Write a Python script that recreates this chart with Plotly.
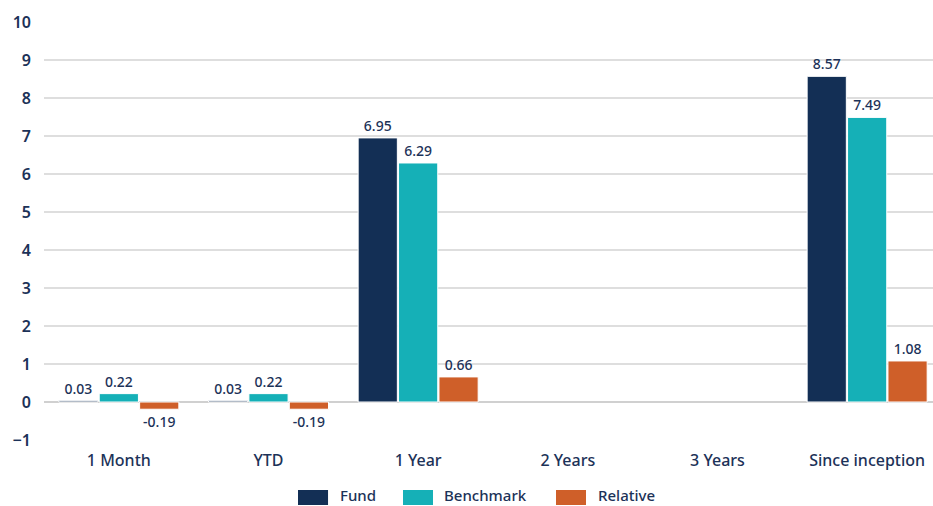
import plotly.graph_objects as go

categories = ["1 Month", "YTD", "1 Year", "2 Years", "3 Years", "Since inception"]
fund = [0.03, 0.03, 6.95, None, None, 8.57]
benchmark = [0.22, 0.22, 6.29, None, None, 7.49]
relative = [-0.19, -0.19, 0.66, None, None, 1.08]
y_ticks = [-1, 0, 1, 2, 3, 4, 5, 6, 7, 8, 9, 10]

series_names = ["Fund", "Benchmark", "Relative"]
series_values = [fund, benchmark, relative]
series_colors = ["#132f55", "#15b0b7", "#cf5f29"]

text_color = "#1c3258"
font_family = "Noto Sans, Open Sans, sans-serif"

fig = go.Figure()
for name, vals, color in zip(series_names, series_values, series_colors):
    fig.add_trace(go.Bar(
        name=name,
        x=categories,
        y=vals,
        marker=dict(color=color, line=dict(color="white", width=1)),
        text=[("" if v is None else f"{v:.2f}") for v in vals],
        textposition="outside",
        textfont=dict(size=14, color=text_color, family=font_family, weight=500),
        cliponaxis=False,
        showlegend=False,
    ))

# custom legend (larger rectangular swatches as in the reference)
legend_swatch_x = [(0.2857, 0.3195), (0.4038, 0.4376), (0.5759, 0.6097)]
legend_text_x = [0.3318, 0.4488, 0.6220]
shapes = []
annotations = []
for name, color, (x0, x1), tx in zip(series_names, series_colors, legend_swatch_x, legend_text_x):
    shapes.append(dict(type="rect", xref="paper", yref="paper",
                       x0=x0, x1=x1, y0=-0.1555, y1=-0.1196,
                       fillcolor=color, line=dict(width=0)))
    annotations.append(dict(xref="paper", yref="paper", x=tx, y=-0.131,
                            xanchor="left", yanchor="middle", showarrow=False,
                            borderpad=0,
                            text=name,
                            font=dict(size=15, color=text_color, family=font_family, weight=500)))

fig.update_layout(
    width=933,
    height=506,
    barmode="group",
    bargap=0.19,
    bargroupgap=0.03,
    plot_bgcolor="white",
    paper_bgcolor="white",
    margin=dict(l=44, r=0, t=22, b=66),
    font=dict(family=font_family, color=text_color, size=15),
    showlegend=False,
    shapes=shapes,
    annotations=annotations,
    xaxis=dict(
        range=[-0.5, 5.44],
        showgrid=False,
        showline=False,
        ticks="",
        ticklabelstandoff=9,
        tickfont=dict(size=16, color=text_color, family=font_family, weight=500),
    ),
    yaxis=dict(
        range=[-1, 10],
        tickvals=y_ticks,
        showgrid=True,
        gridcolor="#dedede",
        gridwidth=1.5,
        zeroline=True,
        zerolinecolor="#d0d0d0",
        zerolinewidth=1.5,
        showline=False,
        ticks="",
        ticklabelstandoff=12,
        tickfont=dict(size=16, color=text_color, family=font_family, weight=600),
    ),
)

fig.write_html("out.html", config={"displayModeBar": False},
               post_script="document.body.style.margin='0';document.body.style.overflow='hidden';")
